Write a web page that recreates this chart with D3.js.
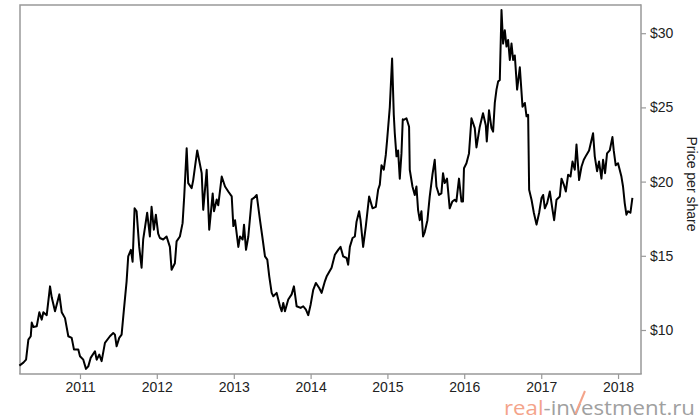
<!DOCTYPE html>
<html>
<head>
<meta charset="utf-8">
<script src="https://cdn.jsdelivr.net/npm/d3@7"></script>
<style>
body{margin:0;background:#fff;}
svg{display:block;}
</style>
</head>
<body>
<div id="chart"></div>
<script>
// price readings, date as fractional year
var years = [2010.211,2010.263,2010.298,2010.328,2010.359,2010.372,2010.393,2010.437,2010.471,2010.502,
2010.523,2010.567,2010.610,2010.632,2010.675,2010.731,2010.762,2010.805,2010.848,2010.892,
2010.922,2010.978,2011.000,2011.043,2011.078,2011.108,2011.139,2011.195,2011.217,2011.251,
2011.282,2011.325,2011.390,2011.433,2011.455,2011.477,2011.511,2011.542,2011.572,2011.607,
2011.628,2011.663,2011.685,2011.711,2011.737,2011.771,2011.802,2011.823,2011.875,2011.910,
2011.932,2011.962,2011.988,2012.018,2012.040,2012.083,2012.127,2012.170,2012.192,2012.235,
2012.257,2012.300,2012.335,2012.356,2012.388,2012.408,2012.453,2012.473,2012.525,2012.583,
2012.603,2012.648,2012.681,2012.726,2012.743,2012.778,2012.798,2012.843,2012.886,2012.928,
2012.973,2012.994,2013.016,2013.059,2013.081,2013.116,2013.133,2013.159,2013.189,2013.233,
2013.263,2013.298,2013.341,2013.371,2013.406,2013.436,2013.462,2013.493,2013.514,2013.558,
2013.601,2013.623,2013.644,2013.666,2013.709,2013.753,2013.783,2013.818,2013.870,2013.904,
2013.939,2013.969,2014.000,2014.034,2014.069,2014.112,2014.143,2014.186,2014.208,2014.273,
2014.316,2014.359,2014.390,2014.424,2014.468,2014.489,2014.511,2014.546,2014.576,2014.598,
2014.632,2014.650,2014.684,2014.719,2014.762,2014.806,2014.849,2014.879,2014.901,2014.923,
2014.953,2014.979,2014.996,2015.031,2015.061,2015.083,2015.096,2015.118,2015.139,2015.161,
2015.183,2015.200,2015.213,2015.248,2015.282,2015.291,2015.326,2015.356,2015.378,2015.399,
2015.421,2015.443,2015.464,2015.486,2015.521,2015.551,2015.586,2015.616,2015.638,2015.672,
2015.703,2015.724,2015.746,2015.776,2015.811,2015.846,2015.876,2015.898,2015.932,2015.964,
2015.984,2015.997,2016.029,2016.062,2016.094,2016.137,2016.159,2016.202,2016.244,2016.280,
2016.293,2016.322,2016.354,2016.375,2016.397,2016.419,2016.440,2016.462,2016.484,2016.505,
2016.527,2016.549,2016.570,2016.592,2016.614,2016.635,2016.657,2016.687,2016.722,2016.757,
2016.787,2016.809,2016.830,2016.843,2016.874,2016.904,2016.939,2016.973,2017.004,2017.025,
2017.047,2017.077,2017.112,2017.147,2017.168,2017.199,2017.242,2017.264,2017.294,2017.320,
2017.350,2017.381,2017.407,2017.437,2017.459,2017.493,2017.524,2017.554,2017.589,2017.623,
2017.675,2017.697,2017.727,2017.753,2017.784,2017.805,2017.831,2017.857,2017.892,2017.927,
2017.944,2017.970,2018.000,2018.044,2018.065,2018.087,2018.109,2018.130,2018.161,2018.187];

var prices = [7.6,7.8,8.0,9.35,9.58,10.5,10.2,10.25,11.2,10.7,
11.2,11.0,12.94,12.2,11.26,12.4,11.2,10.8,9.58,9.47,
8.68,8.68,8.23,8.0,7.38,7.55,8.12,8.57,8.0,8.34,
7.9,9.13,9.58,9.8,9.69,8.9,9.47,9.69,11.37,13.28,
14.96,15.4,14.6,18.2,18.0,15.6,14.2,16.1,17.9,16.3,
18.3,16.76,17.77,16.5,16.2,16.1,16.3,15.6,14.06,14.5,
15.97,16.3,17.2,19.0,22.25,19.9,19.56,20.1,22.1,20.57,
18.1,20.8,16.76,19.2,18.0,18.8,18.4,20.34,19.67,19.33,
19.0,17.0,17.4,15.6,16.3,16.1,17.1,15.4,16.3,18.8,
18.9,19.1,17.4,16.3,14.96,14.74,13.6,12.5,12.27,12.5,
11.6,11.26,11.82,11.26,12.05,12.4,12.94,11.6,11.49,11.6,
11.37,11.0,11.7,12.7,13.17,12.83,12.5,13.28,13.6,14.2,
15.07,15.4,15.6,14.96,14.85,14.4,15.6,16.2,16.3,17.3,
18.0,17.4,15.6,17.0,19.0,18.2,18.3,19.45,19.8,21.1,
20.8,21.8,22.8,25.0,28.3,24.5,23.26,21.7,22.1,20.2,
21.9,24.2,24.16,24.27,23.7,20.8,19.67,19.1,19.67,18.1,
17.4,18.0,16.3,16.6,17.4,19.0,20.46,21.47,19.67,19.1,
19.2,20.57,19.9,20.2,18.2,18.66,18.78,18.66,20.2,18.66,
18.66,20.9,21.24,21.9,24.27,23.6,22.3,23.7,24.6,23.8,
22.7,24.8,23.6,23.37,25.3,26.2,26.74,26.85,31.56,29.3,
30.2,29.1,29.54,28.2,29.3,28.2,28.5,26.2,27.7,25.05,
25.3,24.4,24.5,19.45,18.78,17.9,17.1,17.9,18.9,19.1,
18.2,18.55,19.33,18.1,17.4,18.78,19.0,20.2,19.8,19.33,
20.46,20.34,21.35,20.8,22.5,20.1,21.0,21.47,21.8,22.1,
23.26,21.7,20.7,21.35,20.2,21.47,20.57,21.9,22.1,23.0,
22.1,21.1,21.24,20.34,19.67,18.55,17.77,18.0,17.9,18.9];

var year_ticks = [2011,2012,2013,2014,2015,2016,2017,2018];
var price_ticks = [10,15,20,25,30];
var x_range = [2010.219, 2018.299];
var y_range = [7.035, 31.9];
var y_title = "Price per share";

var width = 700;
var height = 420;
var margin = {top: 5, right: 59, bottom: 46, left: 20};

function to_date(yf){
	var y = Math.floor(yf);
	var a = Date.UTC(y, 0, 1);
	var b = Date.UTC(y + 1, 0, 1);
	return new Date(a + (yf - y) * (b - a));
}

function make_chart(){
	var svg = d3.select("#chart").append("svg")
		.attr("width", width)
		.attr("height", height);

	var x0 = margin.left, x1 = width - margin.right;
	var y0 = margin.top, y1 = height - margin.bottom;

	var x = d3.scaleUtc()
		.domain(x_range.map(to_date))
		.range([x0, x1]);
	var y = d3.scaleLinear()
		.domain(y_range)
		.range([y1, y0]);

	var data = years.map(function(t, i){ return {date: to_date(t), price: prices[i]}; });

	// frame on top and left
	svg.append("path")
		.attr("d", "M" + x0 + "," + y1 + "V" + y0 + "H" + x1)
		.attr("fill", "none")
		.attr("stroke", "#999")
		.attr("stroke-width", 1.5);

	var xAxis = svg.append("g")
		.attr("transform", "translate(0," + y1 + ")")
		.call(d3.axisBottom(x)
			.tickValues(year_ticks.map(to_date))
			.tickFormat(d3.utcFormat("%Y"))
			.tickSizeOuter(0)
			.tickSize(5)
			.tickPadding(3));

	var yAxis = svg.append("g")
		.attr("transform", "translate(" + x1 + ",0)")
		.call(d3.axisRight(y)
			.tickValues(price_ticks)
			.tickFormat(function(d){ return "$" + d; })
			.tickSizeOuter(0)
			.tickSize(5)
			.tickPadding(4));

	[xAxis, yAxis].forEach(function(g){
		g.select(".domain").attr("stroke", "#999").attr("stroke-width", 1.5);
		g.selectAll(".tick line").attr("stroke", "#999").attr("stroke-width", 1.2);
		g.selectAll(".tick text")
			.attr("fill", "#222")
			.style("font-family", "'Liberation Sans', Arial, sans-serif")
			.style("font-size", "14px");
	});
	// domain lines of d3 axes have no outer ticks, extend frame fully
	xAxis.select(".domain").attr("d", "M" + (x0 - 0.75) + ",0H" + (x1 + 0.75));
	yAxis.select(".domain").attr("d", "M0," + (y0 - 0.75) + "V" + y1);

	svg.append("text")
		.attr("transform", "translate(687,184) rotate(90)")
		.attr("text-anchor", "middle")
		.attr("fill", "#222")
		.style("font-family", "'Liberation Sans', Arial, sans-serif")
		.style("font-size", "14px")
		.text(y_title);

	var line = d3.line()
		.x(function(d){ return x(d.date); })
		.y(function(d){ return y(d.price); });

	svg.append("path")
		.datum(data)
		.attr("d", line)
		.attr("fill", "none")
		.attr("stroke", "#000")
		.attr("stroke-width", 2)
		.attr("stroke-linejoin", "round");

	// watermark
	var wm = svg.append("text")
		.attr("x", 504)
		.attr("y", 415)
		.attr("textLength", 191)
		.attr("lengthAdjust", "spacingAndGlyphs")
		.style("font-family", "'Open Sans', sans-serif")
		.style("font-size", "20px");
	wm.append("tspan").attr("fill", "#f4a48a").text("real");
	wm.append("tspan").attr("fill", "#a0a0a0").text("-investment.ru");

	var node = wm.node();
	var vi = "real-inv".length - 1;
	var vs = node.getStartPositionOfChar(vi);
	var ve = node.getEndPositionOfChar(vi);
	svg.append("path")
		.attr("d", "M" + ((vs.x + ve.x) / 2) + ",414L" + (ve.x + 4) + ",391")
		.attr("stroke", "#f4a48a")
		.attr("stroke-width", 2)
		.attr("fill", "none");
}

make_chart();
</script>
</body>
</html>
